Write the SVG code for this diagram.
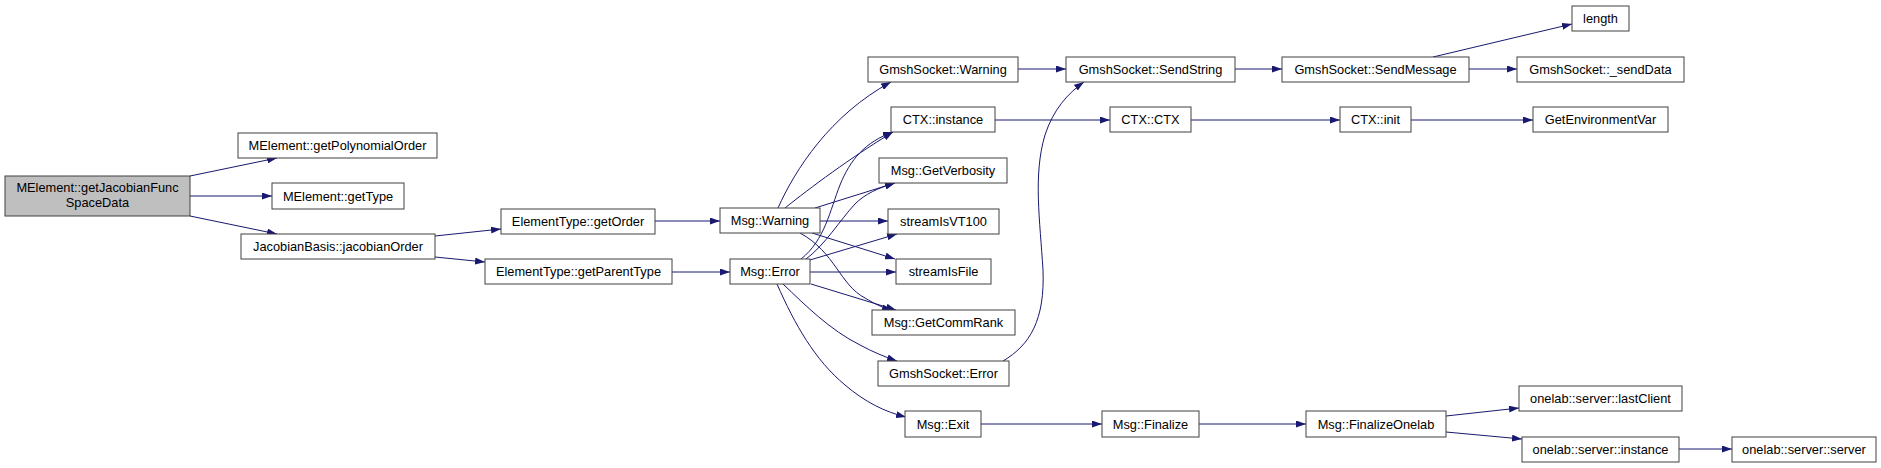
<svg xmlns="http://www.w3.org/2000/svg" width="1881" height="468" viewBox="0 0 1881 468">
<style>
.n rect{fill:#ffffff;stroke:#404040;stroke-width:1}
.n.root rect{fill:#bfbfbf}
.n text{font-family:"Liberation Sans",Arial,sans-serif;font-size:12.8px;fill:#000000;text-anchor:middle}
#edges path{fill:none;stroke:#191970;stroke-width:1;marker-end:url(#ah)}
</style>
<defs>
<marker id="ah" markerWidth="10" markerHeight="7" refX="10" refY="3.5" orient="auto" markerUnits="userSpaceOnUse">
<path d="M0,0 L10,3.5 L0,7 z" fill="#191970"/>
</marker>
</defs>
<rect x="0" y="0" width="1881" height="468" fill="#ffffff"/>
<g id="edges">
<path d="M190,176 L277,158"/>
<path d="M190,196 L272,196"/>
<path d="M190,216 L277,234"/>
<path d="M435,236 L501,229"/>
<path d="M435,257 L485,262"/>
<path d="M655,221 L720,221"/>
<path d="M672,272 L730,272"/>
<path d="M778,208 C795,170 830,115 891,82"/>
<path d="M785,208 C810,188 850,158 893,132"/>
<path d="M815,208 L895,183"/>
<path d="M820,221 L888,221"/>
<path d="M812,233 L895,259"/>
<path d="M800,233 C835,252 840,285 865,298 C875,304 883,308 892,310"/>
<path d="M801,259 C825,240 830,210 840,185 C850,160 865,142 893,132"/>
<path d="M806,259 C825,245 840,220 855,204 C865,194 878,188 895,183"/>
<path d="M810,260 L897,234"/>
<path d="M810,272 L896,272"/>
<path d="M811,284 L896,310"/>
<path d="M783,284 C805,305 830,330 860,345 C873,352 885,357 897,361"/>
<path d="M777,284 C795,325 815,360 845,385 C865,402 885,412 906,417"/>
<path d="M1003,361 C1030,345 1045,320 1043,270 C1040,220 1033,175 1045,135 C1053,110 1068,93 1084,82"/>
<path d="M1018,69 L1066,69"/>
<path d="M995,120 L1110,120"/>
<path d="M1235,69 L1282,69"/>
<path d="M1191,120 L1340,120"/>
<path d="M1433,57 L1572,24"/>
<path d="M1469,69 L1517,69"/>
<path d="M1411,120 L1533,120"/>
<path d="M981,424 L1102,424"/>
<path d="M1199,424 L1306,424"/>
<path d="M1446,416 L1519,408"/>
<path d="M1446,432 L1522,439"/>
<path d="M1679,449 L1732,449"/>
</g>
<g id="n1" class="n root"><rect x="5" y="176" width="185" height="40"/><text x="97.5" y="192">MElement::getJacobianFunc</text><text x="97.5" y="207">SpaceData</text></g>
<g id="n2" class="n"><rect x="238" y="133" width="199" height="25"/><text x="337.5" y="150">MElement::getPolynomialOrder</text></g>
<g id="n3" class="n"><rect x="272" y="183" width="132" height="26"/><text x="338" y="200.5">MElement::getType</text></g>
<g id="n4" class="n"><rect x="241" y="234" width="194" height="25"/><text x="338" y="251">JacobianBasis::jacobianOrder</text></g>
<g id="n5" class="n"><rect x="501" y="209" width="154" height="25"/><text x="578" y="226">ElementType::getOrder</text></g>
<g id="n6" class="n"><rect x="485" y="259" width="187" height="25"/><text x="578.5" y="276">ElementType::getParentType</text></g>
<g id="n7" class="n"><rect x="720" y="208" width="100" height="25"/><text x="770" y="225">Msg::Warning</text></g>
<g id="n8" class="n"><rect x="730" y="259" width="80" height="25"/><text x="770" y="276">Msg::Error</text></g>
<g id="n9" class="n"><rect x="868" y="57" width="150" height="25"/><text x="943" y="74">GmshSocket::Warning</text></g>
<g id="n10" class="n"><rect x="891" y="107" width="104" height="25"/><text x="943" y="124">CTX::instance</text></g>
<g id="n11" class="n"><rect x="879" y="158" width="128" height="25"/><text x="943" y="175">Msg::GetVerbosity</text></g>
<g id="n12" class="n"><rect x="888" y="209" width="111" height="25"/><text x="943.5" y="226">streamIsVT100</text></g>
<g id="n13" class="n"><rect x="896" y="259" width="95" height="25"/><text x="943.5" y="276">streamIsFile</text></g>
<g id="n14" class="n"><rect x="872" y="310" width="143" height="25"/><text x="943.5" y="327">Msg::GetCommRank</text></g>
<g id="n15" class="n"><rect x="878" y="361" width="131" height="25"/><text x="943.5" y="378">GmshSocket::Error</text></g>
<g id="n16" class="n"><rect x="905" y="411" width="76" height="26"/><text x="943" y="428.5">Msg::Exit</text></g>
<g id="n17" class="n"><rect x="1066" y="57" width="169" height="25"/><text x="1150.5" y="74">GmshSocket::SendString</text></g>
<g id="n18" class="n"><rect x="1110" y="107" width="81" height="25"/><text x="1150.5" y="124">CTX::CTX</text></g>
<g id="n19" class="n"><rect x="1102" y="411" width="97" height="26"/><text x="1150.5" y="428.5">Msg::Finalize</text></g>
<g id="n20" class="n"><rect x="1282" y="57" width="187" height="25"/><text x="1375.5" y="74">GmshSocket::SendMessage</text></g>
<g id="n21" class="n"><rect x="1340" y="107" width="71" height="25"/><text x="1375.5" y="124">CTX::init</text></g>
<g id="n22" class="n"><rect x="1306" y="411" width="140" height="26"/><text x="1376" y="428.5">Msg::FinalizeOnelab</text></g>
<g id="n23" class="n"><rect x="1572" y="6" width="57" height="25"/><text x="1600.5" y="23">length</text></g>
<g id="n24" class="n"><rect x="1517" y="57" width="167" height="25"/><text x="1600.5" y="74">GmshSocket::_sendData</text></g>
<g id="n25" class="n"><rect x="1533" y="107" width="135" height="25"/><text x="1600.5" y="124">GetEnvironmentVar</text></g>
<g id="n26" class="n"><rect x="1519" y="386" width="163" height="25"/><text x="1600.5" y="403">onelab::server::lastClient</text></g>
<g id="n27" class="n"><rect x="1522" y="437" width="157" height="25"/><text x="1600.5" y="454">onelab::server::instance</text></g>
<g id="n28" class="n"><rect x="1732" y="437" width="144" height="25"/><text x="1804" y="454">onelab::server::server</text></g>
</svg>
